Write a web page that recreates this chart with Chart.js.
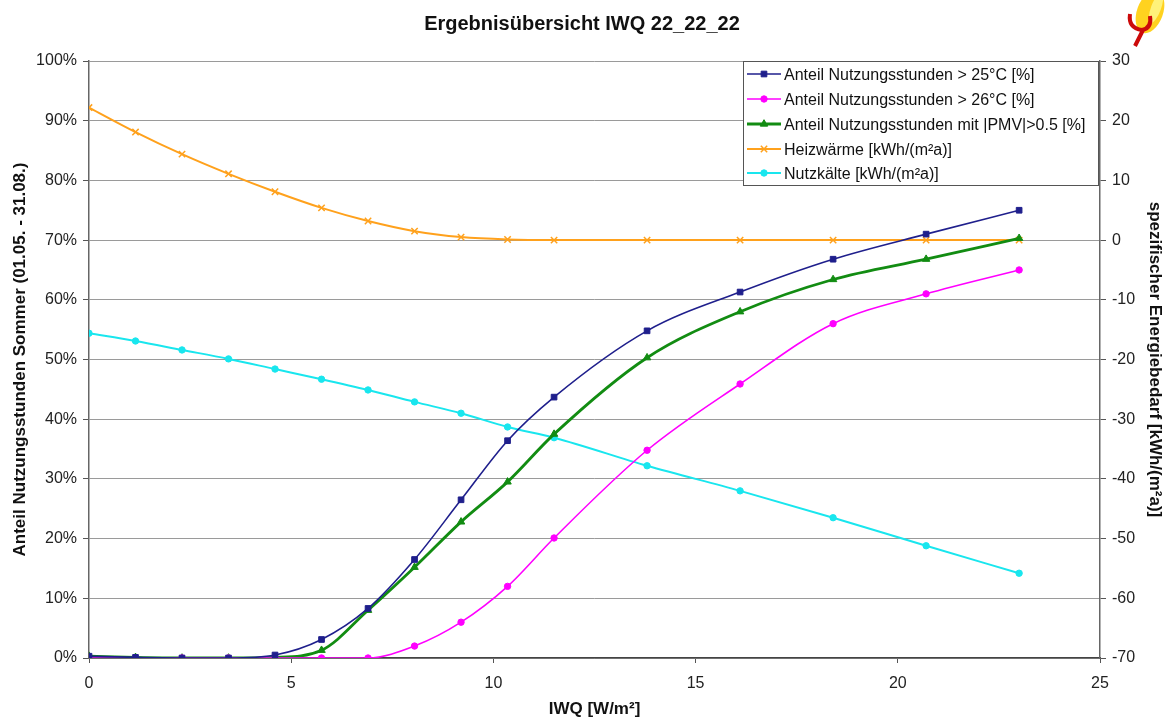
<!DOCTYPE html>
<html>
<head>
<meta charset="utf-8">
<script src="https://cdn.jsdelivr.net/npm/chart.js@4.4.1/dist/chart.umd.min.js"></script>
<style>
  html, body { margin: 0; padding: 0; background: #ffffff; }
  #wrap { width: 1165px; height: 720px; position: relative; }
</style>
</head>
<body>
<div id="wrap"><canvas id="c" width="1165" height="720"></canvas></div>
<script>
// ---- data ----
const chartTitle = 'Ergebnisübersicht IWQ 22_22_22';
const iwq = [0, 1.15, 2.3, 3.45, 4.6, 5.75, 6.9, 8.05, 9.2, 10.35, 11.5, 13.8, 16.1, 18.4, 20.7, 23.0];
const over25 = [0.3, 0.1, 0, 0, 0.5, 3.1, 8.3, 16.5, 26.5, 36.4, 43.7, 54.8, 61.3, 66.8, 71.0, 75.0];
const over26 = [0, 0, 0, 0, 0, 0, 0, 2.0, 6.0, 12.0, 20.1, 34.8, 45.9, 56.0, 61.0, 65.0];
const pmv = [0.3, 0.1, 0, 0, 0.1, 1.3, 8.0, 15.2, 22.8, 29.5, 37.5, 50.3, 58.0, 63.4, 66.8, 70.3];
const heiz = [22.2, 18.1, 14.4, 11.1, 8.1, 5.4, 3.2, 1.5, 0.5, 0.1, 0, 0, 0, 0, 0, 0];
const kaelte = [-15.6, -16.9, -18.4, -19.9, -21.6, -23.3, -25.1, -27.1, -29.0, -31.3, -33.1, -37.8, -42.0, -46.5, -51.2, -55.8];
const seriesLabels = [
  'Anteil Nutzungsstunden > 25°C [%]',
  'Anteil Nutzungsstunden > 26°C [%]',
  'Anteil Nutzungsstunden mit |PMV|>0.5 [%]',
  'Heizwärme [kWh/(m²a)]',
  'Nutzkälte [kWh/(m²a)]'
];
const xTitle = 'IWQ [W/m²]';
const yLeftTitle = 'Anteil Nutzungsstunden Sommer (01.05. - 31.08.)';
const yRightTitle = 'spezifischer Energiebedarf [kWh/(m²a)]';

const pts = arr => arr.map((v, i) => ({ x: iwq[i], y: v }));
const FONT = "'Liberation Sans', Arial, sans-serif";

const datasets = [
  { label: seriesLabels[0], data: pts(over25), yAxisID: 'y', borderColor: '#1f1f8c', backgroundColor: '#1f1f8c',
    borderWidth: 1.6, pointStyle: 'rect', pointRadius: 4, pointBorderWidth: 1 },
  { label: seriesLabels[1], data: pts(over26), yAxisID: 'y', borderColor: '#ff00ff', backgroundColor: '#ff00ff',
    borderWidth: 1.6, pointStyle: 'circle', pointRadius: 3.2, pointBorderWidth: 1 },
  { label: seriesLabels[2], data: pts(pmv), yAxisID: 'y', borderColor: '#128c12', backgroundColor: '#128c12',
    borderWidth: 2.8, pointStyle: 'triangle', pointRadius: 4.3, pointBorderWidth: 1 },
  { label: seriesLabels[3], data: pts(heiz), yAxisID: 'y1', borderColor: '#ffa11c', backgroundColor: '#ffa11c',
    borderWidth: 2, pointStyle: 'crossRot', pointRadius: 4.5, pointBorderWidth: 1.5 },
  { label: seriesLabels[4], data: pts(kaelte), yAxisID: 'y1', borderColor: '#19e6ee', backgroundColor: '#19e6ee',
    borderWidth: 2, pointStyle: 'circle', pointRadius: 3.2, pointBorderWidth: 1 }
];
datasets.forEach(d => { d.cubicInterpolationMode = 'monotone'; d.fill = false; d.pointHoverRadius = d.pointRadius; });

const overlay = {
  id: 'overlay',
  afterDraw(chart) {
    const ctx = chart.ctx;
    ctx.save();
    // title
    ctx.fillStyle = '#111';
    ctx.font = 'bold 20px ' + FONT;
    ctx.textAlign = 'center';
    ctx.textBaseline = 'alphabetic';
    ctx.fillText(chartTitle, 582, 30);

    // legend box
    const bx = 743, by = 61, bw = 355, bh = 124;
    ctx.fillStyle = '#ffffff';
    ctx.fillRect(bx, by, bw, bh);
    ctx.strokeStyle = '#555';
    ctx.lineWidth = 1;
    ctx.strokeRect(bx + 0.5, by + 0.5, bw, bh);
    const rows = [74, 99, 124, 149, 173];
    chart.data.datasets.forEach((ds, i) => {
      const y = rows[i];
      ctx.strokeStyle = ds.borderColor;
      ctx.lineWidth = ds.borderWidth;
      ctx.beginPath();
      ctx.moveTo(747, y);
      ctx.lineTo(781, y);
      ctx.stroke();
      ctx.fillStyle = ds.backgroundColor;
      ctx.strokeStyle = ds.borderColor;
      ctx.lineWidth = ds.pointBorderWidth;
      Chart.helpers.drawPoint(ctx, {
        pointStyle: ds.pointStyle, radius: ds.pointRadius, rotation: 0, borderWidth: ds.pointBorderWidth
      }, 764, y);
      ctx.fillStyle = '#111';
      ctx.font = '16px ' + FONT;
      ctx.textAlign = 'left';
      ctx.textBaseline = 'middle';
      ctx.fillText(ds.label, 784, y + 2);
    });

    // small logo decoration top right
    ctx.fillStyle = '#ffd21f';
    ctx.beginPath();
    ctx.ellipse(1150, 12, 13, 22, 0.35, 0, Math.PI * 2);
    ctx.fill();
    ctx.fillStyle = '#fff27a';
    ctx.beginPath();
    ctx.ellipse(1156, 8, 5, 16, 0.35, 0, Math.PI * 2);
    ctx.fill();
    ctx.strokeStyle = '#cc0a0a';
    ctx.lineWidth = 4;
    ctx.beginPath();
    ctx.moveTo(1130, 14);
    ctx.quadraticCurveTo(1128, 28, 1142, 30);
    ctx.quadraticCurveTo(1152, 28, 1150, 16);
    ctx.moveTo(1143, 30);
    ctx.lineTo(1135, 46);
    ctx.stroke();
    ctx.restore();
  }
};

new Chart(document.getElementById('c'), {
  type: 'line',
  data: { datasets },
  options: {
    responsive: false,
    animation: false,
    layout: { padding: { top: 61, left: 0, right: 0, bottom: 0 } },
    plugins: { legend: { display: false }, title: { display: false }, tooltip: { enabled: false } },
    scales: {
      x: {
        type: 'linear', min: 0, max: 25,
        afterFit(s) { s.height = 62; },
        ticks: { stepSize: 5, color: '#222', font: { family: FONT, size: 16 }, padding: 11, maxRotation: 0 },
        grid: { drawOnChartArea: false, drawTicks: true, tickLength: 5, color: '#555', lineWidth: 1 },
        border: { display: true, color: '#444', width: 1.5 },
        title: { display: true, text: xTitle, color: '#111', font: { family: FONT, size: 17, weight: 'bold' }, padding: { top: 0, bottom: 0 } }
      },
      y: {
        position: 'left', min: 0, max: 100,
        afterFit(s) { s.width = 89; },
        ticks: { stepSize: 10, color: '#222', font: { family: FONT, size: 16 }, padding: 6, callback: v => v + '%' },
        grid: { color: '#9a9a9a', lineWidth: 1, tickLength: 6, tickColor: '#555' },
        border: { display: true, color: '#666', width: 1.5 },
        title: { display: true, text: yLeftTitle, color: '#111', font: { family: FONT, size: 17, weight: 'bold' }, padding: { top: 10, bottom: 0 } }
      },
      y1: {
        position: 'right', min: -70, max: 30,
        afterFit(s) { s.width = 65; },
        ticks: { stepSize: 10, color: '#222', font: { family: FONT, size: 16 }, padding: 6 },
        grid: { drawOnChartArea: false, tickLength: 6, color: '#555' },
        border: { display: true, color: '#666', width: 1.5 },
        title: { display: true, text: yRightTitle, color: '#111', font: { family: FONT, size: 17, weight: 'bold' }, padding: { top: 0, bottom: 0 } }
      }
    }
  },
  plugins: [overlay]
});
</script>
</body>
</html>
